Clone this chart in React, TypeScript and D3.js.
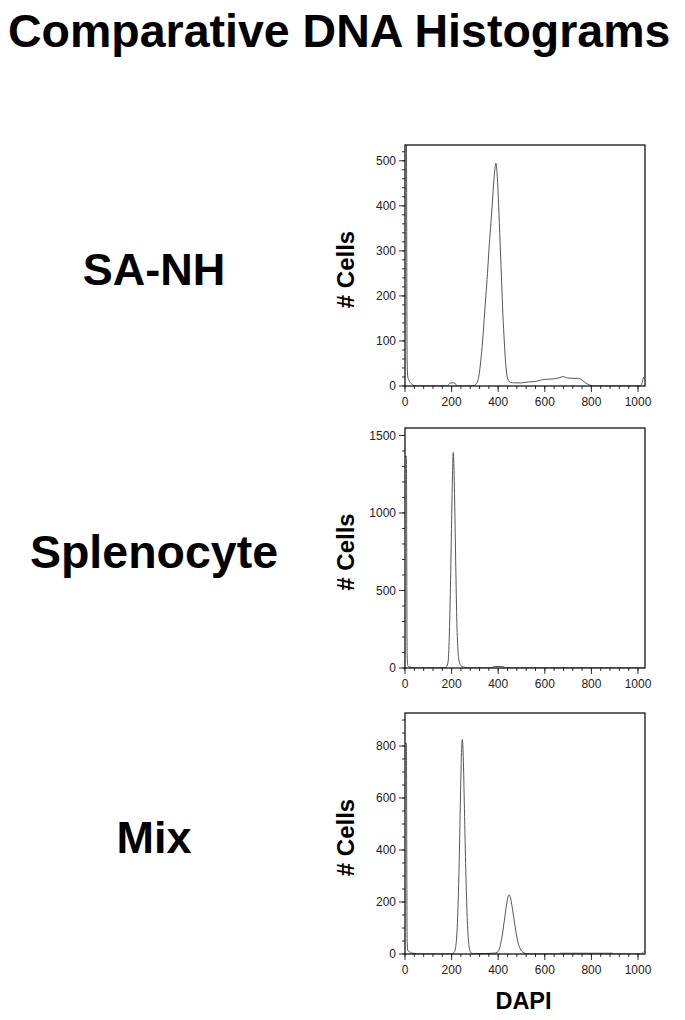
import React from "react";
import * as d3 from "d3";

// ---------- data ----------
const sampleNames = ["SA-NH", "Splenocyte", "Mix"];
const xTickValues = [0, 200, 400, 600, 800, 1000];
const xDomainMax = 1030;
const xMinorStep = 40;
const yTickValues = [
  [0, 100, 200, 300, 400, 500],
  [0, 500, 1000, 1500],
  [0, 200, 400, 600, 800],
];
const yDomainMax = [535, 1548, 927];
const yMinorStep = [20, 100, 50];

// [DAPI channel, # cells]
const saNhHistogram: [number, number][] = [
  [0, 560], [6, 560], [9, 60], [12, 20], [16, 14], [22, 8], [32, 3], [45, 0],
  [180, 0], [188, 4], [196, 7], [210, 7], [218, 4], [226, 0],
  [290, 0], [302, 3], [310, 8], [318, 25], [325, 55], [333, 100], [340, 150],
  [347, 200], [354, 250], [360, 300], [367, 350], [374, 400], [382, 460],
  [390, 495], [396, 465], [402, 400], [408, 320], [414, 240], [420, 160],
  [426, 100], [432, 50], [438, 22], [445, 12], [452, 8], [470, 7], [500, 7],
  [515, 8], [530, 9], [560, 10], [575, 12], [590, 14], [610, 15], [640, 16],
  [660, 18], [680, 21], [695, 18], [720, 17], [745, 17], [760, 13], [775, 7],
  [790, 3], [805, 0], [1008, 0], [1016, 5], [1024, 20],
];
const splenocyteHistogram: [number, number][] = [
  [0, 1365], [6, 1365], [9, 100], [12, 15], [17, 8], [25, 5], [35, 0],
  [170, 0], [178, 8], [185, 40], [190, 200], [195, 520], [200, 950],
  [204, 1250], [207, 1390], [210, 1300], [214, 1000], [218, 650], [222, 330],
  [227, 120], [233, 40], [240, 15], [250, 6], [262, 3], [275, 0],
  [370, 0], [380, 8], [400, 10], [420, 9], [432, 0], [1024, 0],
];
const mixHistogram: [number, number][] = [
  [0, 810], [6, 810], [9, 60], [12, 12], [18, 10], [24, 4], [35, 3], [50, 1],
  [60, 0], [200, 0], [210, 5], [218, 30], [225, 120], [232, 330], [238, 600],
  [243, 790], [246, 825], [250, 760], [255, 560], [261, 320], [267, 140],
  [273, 45], [279, 12], [286, 3], [300, 1], [350, 2], [380, 3], [395, 6],
  [405, 20], [415, 60], [425, 120], [435, 185], [442, 220], [447, 228],
  [452, 218], [460, 180], [470, 120], [480, 65], [490, 30], [500, 12],
  [510, 5], [522, 1], [540, 0], [660, 0], [668, 3], [890, 3], [895, 0],
  [1012, 0], [1020, 5], [1024, 8],
];
const histograms = [saNhHistogram, splenocyteHistogram, mixHistogram];

// ---------- layout ----------
const W = 685;
const H = 1020;
const plotLeft = 405;
const plotRight = 645;
const panelTops = [145, 428, 713];
const panelBottoms = [386, 668, 954];
const labelSizes = [45, 46.5, 45];
const boldFont = "'Liberation Sans', Arial, Helvetica, sans-serif";

function Panel({ i }: { i: number }) {
  const top = panelTops[i];
  const bottom = panelBottoms[i];
  const x = d3.scaleLinear().domain([0, xDomainMax]).range([plotLeft, plotRight]);
  const y = d3.scaleLinear().domain([0, yDomainMax[i]]).range([bottom, top]);
  const line = d3
    .line<[number, number]>()
    .x((d) => x(d[0]))
    .y((d) => y(d[1]))
    .curve(d3.curveMonotoneX);
  const yMinor = d3.range(0, yDomainMax[i] + 0.001, yMinorStep[i]);
  const xMinor = d3.range(0, xDomainMax + 0.001, xMinorStep);
  const cy = (top + bottom) / 2;
  const clipId = `clip-${i}`;
  return (
    <g>
      <defs>
        <clipPath id={clipId}>
          <rect x={plotLeft} y={top} width={plotRight - plotLeft} height={bottom - top} />
        </clipPath>
      </defs>
      <text
        x={154}
        y={cy + 19.5}
        textAnchor="middle"
        fontFamily={boldFont}
        fontWeight="bold"
        fontSize={labelSizes[i]}
        fill="#000"
      >
        {sampleNames[i]}
      </text>
      <text
        transform={`translate(354, ${cy + 4}) rotate(-90)`}
        textAnchor="middle"
        fontFamily={boldFont}
        fontWeight="bold"
        fontSize={24}
        fill="#000"
      >
        # Cells
      </text>
      {yMinor.map((v) => (
        <line key={`ym${v}`} x1={plotLeft - 3} x2={plotLeft} y1={y(v)} y2={y(v)} stroke="#333" strokeWidth={1} />
      ))}
      {yTickValues[i].map((v) => (
        <g key={`y${v}`}>
          <line x1={plotLeft - 6} x2={plotLeft} y1={y(v)} y2={y(v)} stroke="#333" strokeWidth={1} />
          <text
            x={plotLeft - 9}
            y={y(v)}
            dy="0.35em"
            textAnchor="end"
            fontFamily={boldFont}
            fontSize={12}
            fill="#222"
          >
            {v}
          </text>
        </g>
      ))}
      {xMinor.map((v) => (
        <line key={`xm${v}`} x1={x(v)} x2={x(v)} y1={bottom} y2={bottom + 3} stroke="#333" strokeWidth={1} />
      ))}
      {xTickValues.map((v) => (
        <g key={`x${v}`}>
          <line x1={x(v)} x2={x(v)} y1={bottom} y2={bottom + 6} stroke="#333" strokeWidth={1} />
          <text
            x={x(v)}
            y={bottom + 19.5}
            textAnchor="middle"
            fontFamily={boldFont}
            fontSize={12}
            fill="#222"
          >
            {v}
          </text>
        </g>
      ))}
      <path
        d={line(histograms[i]) || ""}
        fill="none"
        stroke="#555"
        strokeWidth={1}
        clipPath={`url(#${clipId})`}
      />
      <rect
        x={plotLeft}
        y={top}
        width={plotRight - plotLeft}
        height={bottom - top}
        fill="none"
        stroke="#000"
        strokeWidth={1.2}
      />
    </g>
  );
}

export default function App() {
  return (
    <svg
      width={W}
      height={H}
      style={{ position: "absolute", left: 0, top: 0, background: "#fff" }}
    >
      <rect x={0} y={0} width={W} height={H} fill="#fff" />
      <text
        x={8}
        y={47}
        fontFamily={boldFont}
        fontWeight="bold"
        fontSize={46.5}
        fill="#000"
      >
        Comparative DNA Histograms
      </text>
      {sampleNames.map((_, i) => (
        <Panel key={i} i={i} />
      ))}
      <text
        x={523.5}
        y={1009}
        textAnchor="middle"
        fontFamily={boldFont}
        fontWeight="bold"
        fontSize={23.5}
        fill="#000"
      >
        DAPI
      </text>
    </svg>
  );
}
